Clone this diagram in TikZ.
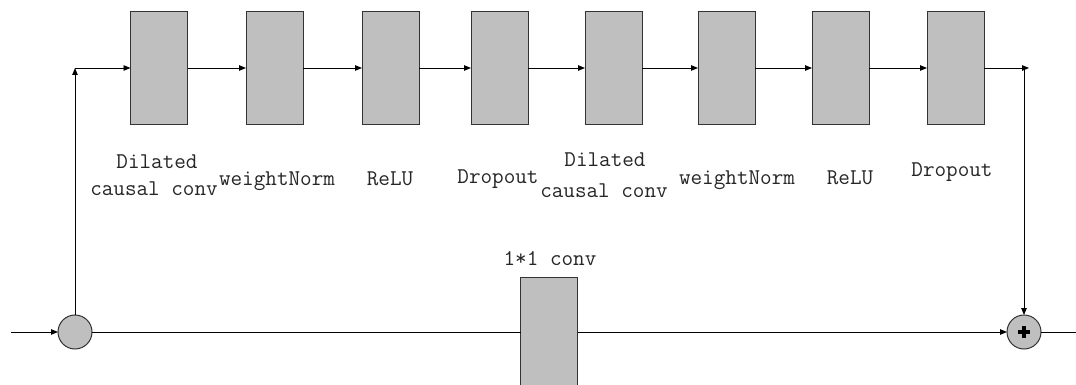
\documentclass[tikz,border=0pt]{standalone}
\usepackage{fontspec}
\usetikzlibrary{arrows.meta}
\definecolor{boxgray}{RGB}{191,191,191}
\begin{document}
\begin{tikzpicture}[x=1pt, y=-1pt,
  blk/.style={draw=black!80, fill=boxgray, line width=1pt,
              minimum width=57pt, minimum height=113pt, inner sep=0pt, outer sep=0pt},
  junc/.style={circle, draw=black!80, fill=boxgray, line width=1pt,
               minimum size=34pt, inner sep=0pt, outer sep=0pt},
  lbl/.style={font=\ttfamily\fontsize{22.5}{26}\selectfont, text=black!85, anchor=base, inner sep=0pt},
  wire/.style={line width=0.9pt, black},
  arr/.style={wire, -{Triangle[length=7pt, width=5.5pt]}}]
\useasboundingbox (0,0) rectangle (1076,385);
\clip (0,0) rectangle (1076,385);

% residual block: eight stages
\node[blk] (b1) at (159,68) {};
\node[blk] (b2) at (274.5,68) {};
\node[blk] (b3) at (390.5,68) {};
\node[blk] (b4) at (499.5,68) {};
\node[blk] (b5) at (613.5,68) {};
\node[blk] (b6) at (726.5,68) {};
\node[blk] (b7) at (840.5,68) {};
\node[blk] (b8) at (955.5,68) {};

% stage labels
\node[lbl] (t1a) at (157,168) {Dilated};
\node[lbl] (t1b) at (154,195) {causal conv};
\node[lbl] (t2) at (277,185) {weightNorm};
\node[lbl] (t3) at (390,185) {ReLU};
\node[lbl] (t4) at (498,183) {Dropout};
\node[lbl] (t5a) at (605,167) {Dilated};
\node[lbl] (t5b) at (604,197) {causal conv};
\node[lbl] (t6) at (737,184) {weightNorm};
\node[lbl] (t7) at (850,184) {ReLU};
\node[lbl] (t8) at (952,176) {Dropout};

% skip path: 1x1 convolution
\node[blk, minimum height=115pt] (c11) at (549,334.5) {};
\node[lbl] (tc) at (550,265) {1*1 conv};

% split and sum junctions
\node[junc] (split) at (75,332) {};
\node[junc] (add) at (1024,332) {};
\fill[black] (add.center) +(-6,-1.8) rectangle +(6,1.8);
\fill[black] (add.center) +(-1.8,-6) rectangle +(1.8,6);

\coordinate (in) at (11,332);
\coordinate (out) at (1076,332);
\coordinate (j1) at (75,68);
\coordinate (j2) at (1024,68);
\coordinate (tipr) at (1029,68);

% connectors
\draw[arr] (in) -- (split.west);
\draw[arr] (split.north) -- (j1);
\draw[arr] (j1) -- (b1.west);
\draw[arr] (b1.east) -- (b2.west);
\draw[arr] (b2.east) -- (b3.west);
\draw[arr] (b3.east) -- (b4.west);
\draw[arr] (b4.east) -- (b5.west);
\draw[arr] (b5.east) -- (b6.west);
\draw[arr] (b6.east) -- (b7.west);
\draw[arr] (b7.east) -- (b8.west);
\draw[arr] (b8.east) -- (tipr);
\draw[arr] (j2) -- (add.north);
\draw[wire] (split.east) -- (split.east -| c11.west);
\draw[arr] (add.west -| c11.east) -- (add.west);
\draw[wire] (add.east) -- (out);
\end{tikzpicture}
\end{document}
